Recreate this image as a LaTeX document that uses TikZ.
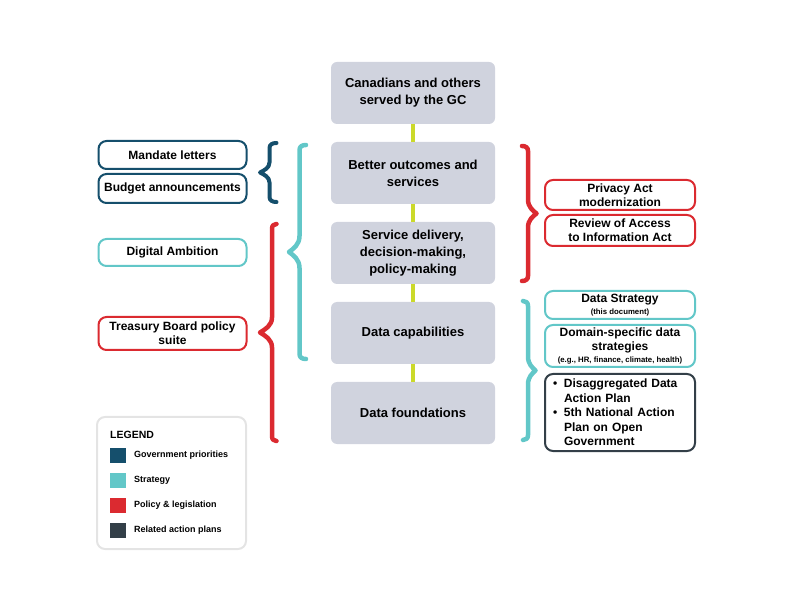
\documentclass[tikz,border=0pt]{standalone}
\usepackage{fontspec}
\setmainfont{Liberation Sans}
\definecolor{gcgray}{HTML}{D0D3DE}
\definecolor{gclime}{HTML}{CBD92A}
\definecolor{gcnavy}{HTML}{154F6C}
\definecolor{gcteal}{HTML}{62C7C8}
\definecolor{gcred}{HTML}{DB2A30}
\definecolor{gcdark}{HTML}{333F48}
\definecolor{gclight}{HTML}{E4E4E4}
% #1 style, #2 X of arm ends, #3 top y, #4 bottom y, #5 signed bar offset, #6 signed tip offset, #7 tip half height
\newcommand\gcbrace[7]{%
  \draw[#1] (#2,#3) .. controls ({#2+0.6*(#5)},#3) and ({#2+(#5)},{#3+1.5}) .. ({#2+(#5)},{#3+5})
    -- ({#2+(#5)},{(#3+#4)/2-(#7)})
    .. controls ({#2+(#5)},{(#3+#4)/2-0.45*(#7)}) and ({#2+0.6*(#6)+0.4*(#5)},{(#3+#4)/2-0.2*(#7)}) .. ({#2+(#6)},{(#3+#4)/2})
    .. controls ({#2+0.6*(#6)+0.4*(#5)},{(#3+#4)/2+0.2*(#7)}) and ({#2+(#5)},{(#3+#4)/2+0.45*(#7)}) .. ({#2+(#5)},{(#3+#4)/2+(#7)})
    -- ({#2+(#5)},{#4-5})
    .. controls ({#2+(#5)},{#4-1.5}) and ({#2+0.6*(#5)},#4) .. (#2,#4);}
\begin{document}
\begin{tikzpicture}[x=1pt,y=-1pt,
  centerbox/.style={fill=gcgray, rounded corners=6pt, minimum width=164pt, minimum height=62pt,
    align=center, inner sep=0pt, font=\bfseries\fontsize{13}{17}\selectfont},
  sidebox/.style={draw, line width=2pt, fill=white, rounded corners=8pt, minimum width=148pt,
    align=center, inner sep=0pt, font=\bfseries\fontsize{12}{14}\selectfont},
  link/.style={gclime, line width=4pt},
  bracestyle/.style={line width=4.5pt, line cap=round, line join=round},
  legsq/.style={minimum width=16pt, minimum height=15pt, inner sep=0pt},
  legtext/.style={anchor=west, inner sep=0pt, font=\bfseries\fontsize{9}{11}\selectfont}
]
\useasboundingbox (0,0) rectangle (793,612);

% centre column
\node[centerbox] (c1) at (413,93) {Canadians and others\\served by the GC};
\node[centerbox] (c2) at (413,173) {Better outcomes and\\services};
\node[centerbox] (c3) at (413,253) {Service delivery,\\decision-making,\\policy-making};
\node[centerbox] (c4) at (413,333) {Data capabilities};
\node[centerbox] (c5) at (413,413) {Data foundations};
\draw[link] (c1) -- (c2);
\draw[link] (c2) -- (c3);
\draw[link] (c3) -- (c4);
\draw[link] (c4) -- (c5);

% left boxes
\node[sidebox, draw=gcnavy, minimum height=28pt] (ml) at (172.5,155) {Mandate letters};
\node[sidebox, draw=gcnavy, minimum height=29pt] (ba) at (172.5,188.5) {Budget announcements};
\node[sidebox, draw=gcteal, minimum height=27pt] (da) at (172.5,252.5) {Digital Ambition};
\node[sidebox, draw=gcred, minimum height=33pt] (tb) at (172.5,333.5) {Treasury Board policy\\suite};

% left braces
\gcbrace{bracestyle, gcnavy, line width=4pt}{276.5}{143}{202}{-7}{-16.5}{10}
\gcbrace{bracestyle, gcteal}{306}{145}{359}{-6.5}{-17}{16}
\gcbrace{bracestyle, gcred}{276.5}{224}{441}{-4.5}{-16.5}{15}

% right braces
\gcbrace{bracestyle, gcred}{522}{146}{281}{6}{14.5}{14}
\gcbrace{bracestyle, gcteal}{523}{301}{440}{5}{12.5}{14}

% right boxes
\node[sidebox, draw=gcred, minimum width=150pt, minimum height=30pt] (pa) at (620,195) {Privacy Act\\modernization};
\node[sidebox, draw=gcred, minimum width=150pt, minimum height=31pt] (ra) at (620,230.5) {Review of Access\\to Information Act};
\node[sidebox, draw=gcteal, minimum width=150pt, minimum height=28pt] (ds) at (620,305)
  {Data Strategy\\[-2.5pt]{\fontsize{7.8}{8}\selectfont (this document)}};
\node[sidebox, draw=gcteal, minimum width=150pt, minimum height=42pt] (dd) at (620,346)
  {Domain-specific data\\strategies\\[-1.5pt]{\fontsize{7.8}{8}\selectfont (e.g., HR, finance, climate, health)}};
\node[sidebox, draw=gcdark, minimum width=150pt, minimum height=77pt, align=left, text width=134pt,
  inner xsep=8pt, font=\bfseries\fontsize{12}{14.5}\selectfont] (ap) at (620,412.5)
  {\makebox[11pt][l]{•}Disaggregated Data\\\hspace*{11pt}Action Plan\\\makebox[11pt][l]{•}5th National Action\\\hspace*{11pt}Plan on Open\\\hspace*{11pt}Government};

% legend
\node[draw=gclight, line width=2pt, rounded corners=8pt, minimum width=149pt, minimum height=132pt,
  inner sep=0pt] (leg) at (171.5,483) {};
\node[anchor=west, inner sep=0pt, font=\bfseries\fontsize{10.5}{12}\selectfont] (legt) at (110,435) {LEGEND};
\node[legsq, fill=gcnavy] (s1) at (117.5,455.5) {};
\node[legsq, fill=gcteal] (s2) at (117.5,480) {};
\node[legsq, fill=gcred] (s3) at (117.5,505) {};
\node[legsq, fill=gcdark] (s4) at (117.5,530) {};
\node[legtext] (l1) at (134,455.5) {Government priorities};
\node[legtext] (l2) at (134,480) {Strategy};
\node[legtext] (l3) at (134,505) {Policy \& legislation};
\node[legtext] (l4) at (134,530) {Related action plans};
\end{tikzpicture}
\end{document}
